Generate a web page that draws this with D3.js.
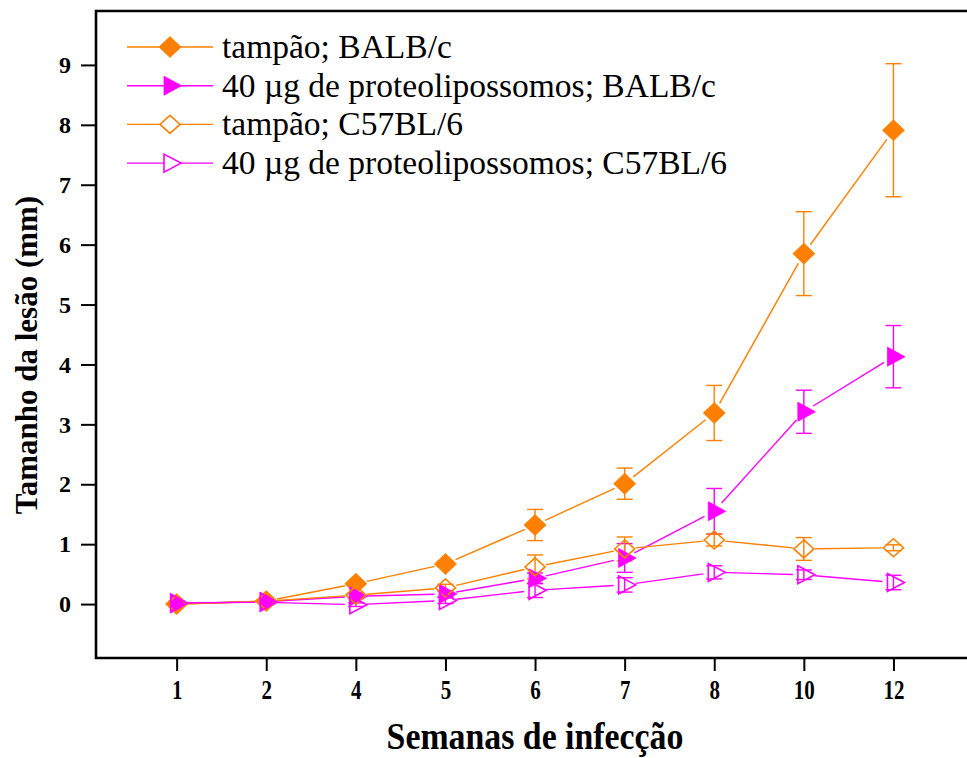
<!DOCTYPE html>
<html>
<head>
<meta charset="utf-8">
<script src="https://cdn.jsdelivr.net/npm/d3@7"></script>
<style>
  html, body { margin: 0; padding: 0; background: #fff; }
  svg { display: block; }
  text { font-family: "Liberation Serif", "Times New Roman", serif; }
</style>
</head>
<body>
<svg id="chart" width="967" height="758"></svg>
<script>
// Weeks after infection (categorical, evenly spaced)
const weeks = ["1", "2", "4", "5", "6", "7", "8", "10", "12"];
const yTicks = [0, 1, 2, 3, 4, 5, 6, 7, 8, 9];

// Lesion size (mm), mean and error per week
const bufferBalb    = [0.00, 0.05, 0.34, 0.67, 1.32, 2.01, 3.19, 5.85, 7.91];
const bufferBalbErr = [0.03, 0.03, 0.04, 0.05, 0.26, 0.26, 0.46, 0.70, 1.11];
const lipoBalb      = [0.01, 0.04, 0.13, 0.17, 0.43, 0.77, 1.55, 3.21, 4.13];
const lipoBalbErr   = [0.03, 0.03, 0.04, 0.05, 0.09, 0.24, 0.38, 0.36, 0.52];
const bufferC57     = [0.00, 0.05, 0.15, 0.27, 0.62, 0.92, 1.07, 0.92, 0.94];
const bufferC57Err  = [0.02, 0.03, 0.04, 0.06, 0.20, 0.20, 0.10, 0.19, 0.05];
const lipoC57       = [0.02, 0.03, -0.01, 0.06, 0.23, 0.32, 0.53, 0.49, 0.36];
const lipoC57Err    = [0.03, 0.03, 0.03, 0.05, 0.12, 0.12, 0.11, 0.08, 0.12];

const seriesLabels = [
  "tampão; BALB/c",
  "40 µg de proteolipossomos; BALB/c",
  "tampão; C57BL/6",
  "40 µg de proteolipossomos; C57BL/6"
];

const ORANGE = "#ff8000", MAGENTA = "#ff00ff";

const series = [
  { label: seriesLabels[0], values: bufferBalb, err: bufferBalbErr, color: ORANGE,  shape: "diamond",  filled: true },
  { label: seriesLabels[1], values: lipoBalb,   err: lipoBalbErr,   color: MAGENTA, shape: "triangle", filled: true },
  { label: seriesLabels[2], values: bufferC57,  err: bufferC57Err,  color: ORANGE,  shape: "diamond",  filled: false },
  { label: seriesLabels[3], values: lipoC57,    err: lipoC57Err,    color: MAGENTA, shape: "triangle", filled: false }
];

const svg = d3.select("#chart");
const plotLeft = 96, plotTop = 11, plotBottom = 658;

// x: category index, padded by 0.9 of a step on each side
const x = d3.scaleLinear().domain([-0.9, 8.9]).range([plotLeft, plotLeft + 9.8 * 89.6]);
const y = d3.scaleLinear().domain([-0.9, 9.9]).range([plotBottom, plotTop]);

// Marker paths
function markerPath(shape, filled) {
  if (shape === "diamond") {
    return filled ? "M0,-10.5L11,0L0,10.5L-11,0Z" : "M0,-9L10,0L0,9L-10,0Z";
  }
  return filled ? "M-6,-9.5L11.5,0L-6,9.5Z" : "M-6,-9L11,0L-6,9Z";
}

const plot = svg.append("g");

// Connecting lines, leaving a small gap around each marker
const gap = 11;
series.forEach(s => {
  const pts = s.values.map((v, i) => [x(i), y(v)]);
  for (let i = 0; i < pts.length - 1; i++) {
    const [x0, y0] = pts[i], [x1, y1] = pts[i + 1];
    const len = Math.hypot(x1 - x0, y1 - y0);
    if (len <= 2 * gap) continue;
    const ux = (x1 - x0) / len, uy = (y1 - y0) / len;
    plot.append("line")
      .attr("x1", x0 + ux * gap).attr("y1", y0 + uy * gap)
      .attr("x2", x1 - ux * gap).attr("y2", y1 - uy * gap)
      .attr("stroke", s.color).attr("stroke-width", 1.4);
  }
});

// Error bars
const cap = 8;
series.forEach(s => {
  const g = plot.append("g").attr("stroke", s.color).attr("stroke-width", 1.4).attr("fill", "none");
  s.values.forEach((v, i) => {
    const cx = x(i), hi = y(v + s.err[i]), lo = y(v - s.err[i]);
    g.append("line").attr("x1", cx).attr("x2", cx).attr("y1", hi).attr("y2", lo);
    g.append("line").attr("x1", cx - cap).attr("x2", cx + cap).attr("y1", hi).attr("y2", hi);
    g.append("line").attr("x1", cx - cap).attr("x2", cx + cap).attr("y1", lo).attr("y2", lo);
  });
});

// Markers
series.forEach(s => {
  plot.append("g").selectAll("path")
    .data(s.values)
    .join("path")
    .attr("transform", (v, i) => `translate(${x(i)},${y(v)})`)
    .attr("d", markerPath(s.shape, s.filled))
    .attr("fill", s.filled ? s.color : "none")
    .attr("stroke", s.color)
    .attr("stroke-width", s.filled ? 0.8 : 1.6);
});

// Frame: left, top and bottom edges (right edge lies beyond the view)
svg.append("path")
  .attr("d", `M${x.range()[1] + 20},${plotTop}H${plotLeft}V${plotBottom}H${x.range()[1] + 20}`)
  .attr("fill", "none").attr("stroke", "#000").attr("stroke-width", 2.6);

// y axis
const yAxis = svg.append("g")
  .attr("transform", `translate(${plotLeft},0)`)
  .call(d3.axisLeft(y).tickValues(yTicks).tickSize(15).tickPadding(10).tickFormat(d3.format("d")));
yAxis.select(".domain").remove();
yAxis.selectAll(".tick line").attr("stroke-width", 2);
yAxis.selectAll(".tick text")
  .attr("font-size", 24).attr("font-weight", "bold")
  .attr("font-family", "Liberation Serif").attr("fill", "#000");

// x axis
const xAxis = svg.append("g")
  .attr("transform", `translate(0,${plotBottom})`)
  .call(d3.axisBottom(x).tickValues(d3.range(weeks.length)).tickSize(13).tickPadding(8)
        .tickFormat(i => weeks[i]));
xAxis.select(".domain").remove();
xAxis.selectAll(".tick line").attr("stroke-width", 2);
xAxis.selectAll(".tick text")
  .attr("font-size", 28).attr("font-weight", "bold")
  .attr("font-family", "Liberation Serif").attr("fill", "#000")
  .attr("transform", "scale(0.75,1)")
  .attr("x", 0);

// Axis titles (slightly condensed)
svg.append("text")
  .attr("transform", `translate(535,749) scale(0.89,1)`)
  .attr("text-anchor", "middle")
  .attr("font-size", 38).attr("font-weight", "bold")
  .text("Semanas de infecção");

svg.append("text")
  .attr("transform", `translate(37,355) rotate(-90)`)
  .attr("text-anchor", "middle")
  .attr("font-size", 31).attr("font-weight", "bold")
  .text("Tamanho da lesão (mm)");

// Legend
const legend = svg.append("g");
series.forEach((s, i) => {
  const ly = 47 + i * 38.7;
  const g = legend.append("g").attr("transform", `translate(0,${ly})`);
  g.append("line").attr("x1", 127).attr("x2", 213).attr("y1", 0).attr("y2", 0)
    .attr("stroke", s.color).attr("stroke-width", 1.4);
  g.append("path").attr("transform", "translate(170,0)")
    .attr("d", markerPath(s.shape, s.filled))
    .attr("fill", s.filled ? s.color : "#fff")
    .attr("stroke", s.color).attr("stroke-width", s.filled ? 0.8 : 1.6);
  g.append("text").attr("x", 222).attr("y", 11)
    .attr("font-size", 33.5).attr("fill", "#000")
    .text(s.label);
});
</script>
</body>
</html>
